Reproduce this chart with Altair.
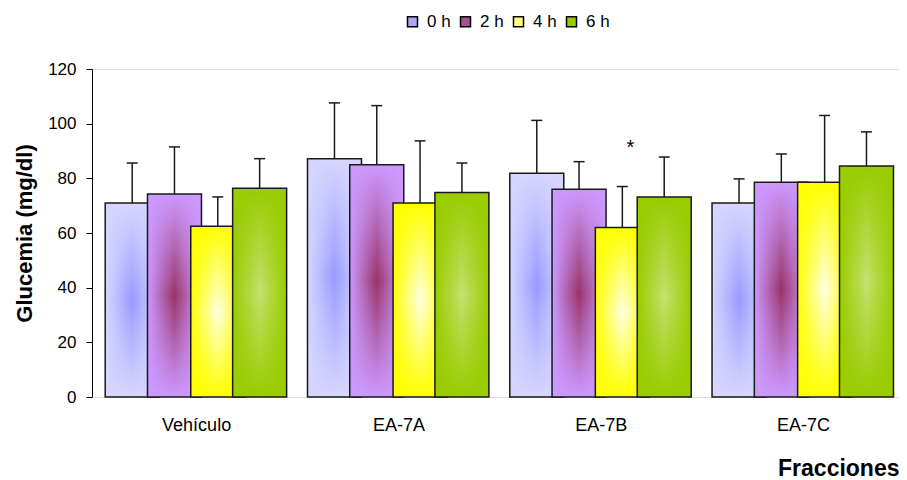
import json
import altair as alt
import pandas as pd

categories = ["Vehículo", "EA-7A", "EA-7B", "EA-7C"]
series = ["0 h", "2 h", "4 h", "6 h"]
means = {
    "0 h": [71.0, 87.2, 81.9, 71.0],
    "2 h": [74.3, 85.0, 76.0, 78.6],
    "4 h": [62.5, 71.0, 62.0, 78.6],
    "6 h": [76.4, 74.8, 73.2, 84.5],
}
errors = {
    "0 h": [14.6, 20.4, 19.3, 8.8],
    "2 h": [17.2, 21.6, 10.1, 10.3],
    "4 h": [10.7, 22.7, 15.0, 24.4],
    "6 h": [10.8, 10.8, 14.6, 12.5],
}
# significance marks: (category, series, symbol)
signif = [("EA-7B", "4 h", "*")]

edge_cols = ["#d6d6ff", "#cc99ff", "#ffff00", "#99cc00"]
center_cols = ["#9999ff", "#993366", "#ffffe6", "#c6e070"]
legend_cols = ["#a8a8f5", "#a8508c", "#ffff80", "#99cc00"]

rows = []
for si, s in enumerate(series):
    for gi, c in enumerate(categories):
        rows.append({"cat": c, "gi": gi, "serie": s, "si": si,
                     "mean": means[s][gi], "err": errors[s][gi]})
df = pd.DataFrame(rows)

ann = pd.DataFrame([{"gi": categories.index(c), "si": series.index(s), "label": t,
                     "ypos": means[s][categories.index(c)] + errors[s][categories.index(c)] + 14}
                    for c, s, t in signif])

FONT = "Liberation Sans"
TOTAL_W, H = 891, 328
xs = alt.Scale(domain=[-0.49, 3.45], nice=False, zero=False)
ys = alt.Scale(domain=[0, 120], nice=False)
label_expr = json.dumps(categories) + "[datum.value]"
xaxis = alt.Axis(values=[0, 1, 2, 3], labelExpr=label_expr, ticks=False, domain=False,
                 grid=False, labelFontSize=18, labelFont=FONT, labelColor="black",
                 labelPadding=19, title="Fracciones", titleFontSize=23, titleFont=FONT,
                 titleFontWeight="bold", titleColor="black", titleAnchor="end",
                 titlePadding=23)
yaxis = alt.Axis(values=[0, 20, 40, 60, 80, 100, 120], grid=False, tickSize=6,
                 tickColor="black", domainColor="black", labelFontSize=17, labelFont=FONT,
                 labelColor="black", labelPadding=10, title="Glucemia (mg/dl)",
                 titleFontSize=22, titleFont=FONT, titleFontWeight="bold",
                 titleColor="black", titlePadding=11)

X = alt.X("pos:Q", scale=xs, axis=xaxis)
Y = alt.Y("mean:Q", scale=ys, axis=yaxis)

pos_expr = "datum.gi + [-0.316, -0.107, 0.107, 0.314][datum.si]"

base = alt.Chart(df).transform_calculate(pos=pos_expr).mark_bar(size=54).encode(
    x=X, y=Y,
    color=alt.Color("serie:N", scale=alt.Scale(domain=series, range=legend_cols),
                    legend=alt.Legend(title=None, orient="none", legendX=312, legendY=-56,
                                      direction="horizontal", symbolType="square",
                                      symbolSize=100, symbolStrokeColor="black",
                                      symbolStrokeWidth=1.5, symbolOpacity=1,
                                      labelFontSize=17, labelFont=FONT, labelColor="black",
                                      columnPadding=6, labelOffset=6)),
)

layers = [base]
for si, s in enumerate(series):
    e, c = edge_cols[si], center_cols[si]
    hgrad = alt.LinearGradient(gradient="linear", x1=0, y1=0, x2=1, y2=0, stops=[
        alt.GradientStop(offset=0, color=e),
        alt.GradientStop(offset=0.5, color=c),
        alt.GradientStop(offset=1, color=e)])
    r, g, b = int(e[1:3], 16), int(e[3:5], 16), int(e[5:7], 16)
    vgrad = alt.LinearGradient(gradient="linear", x1=0, y1=0, x2=0, y2=1, stops=[
        alt.GradientStop(offset=0, color=f"rgba({r},{g},{b},1)"),
        alt.GradientStop(offset=0.5, color=f"rgba({r},{g},{b},0)"),
        alt.GradientStop(offset=1, color=f"rgba({r},{g},{b},1)")])
    sub = alt.Chart(df).transform_calculate(pos=pos_expr).transform_filter(
        alt.datum.serie == s)
    layers.append(sub.mark_bar(size=54, fill=hgrad).encode(x=X, y=Y))
    layers.append(sub.mark_bar(size=54, fill=vgrad, stroke="#1a1a1a",
                               strokeWidth=1.5).encode(x=X, y=Y))

errbase = alt.Chart(df).transform_calculate(pos=pos_expr, upper="datum.mean + datum.err")
rules = errbase.mark_rule(color="#1a1a1a", strokeWidth=1.5).encode(
    x=X, y=Y, y2="upper:Q")
caps = errbase.mark_tick(orient="horizontal", size=11, thickness=1.5,
                         color="#1a1a1a", opacity=1).encode(
    x=X, y=alt.Y("upper:Q", scale=ys, axis=yaxis))
stars = alt.Chart(ann).transform_calculate(pos=pos_expr).mark_text(
    fontSize=20, font=FONT, color="black", dx=8, baseline="middle").encode(
    x=X, y=alt.Y("ypos:Q", scale=ys, axis=yaxis), text="label:N")

chart = alt.layer(*layers, rules, caps, stars).properties(
    width=TOTAL_W, height=H,
    autosize=alt.AutoSizeParams(type="fit-x", contains="padding"),
    padding={"left": 5, "top": 52, "right": 0, "bottom": 0},
).configure_view(stroke=None).configure(background="white")

chart.save("out.html", embed_options={"renderer": "svg", "actions": False})
